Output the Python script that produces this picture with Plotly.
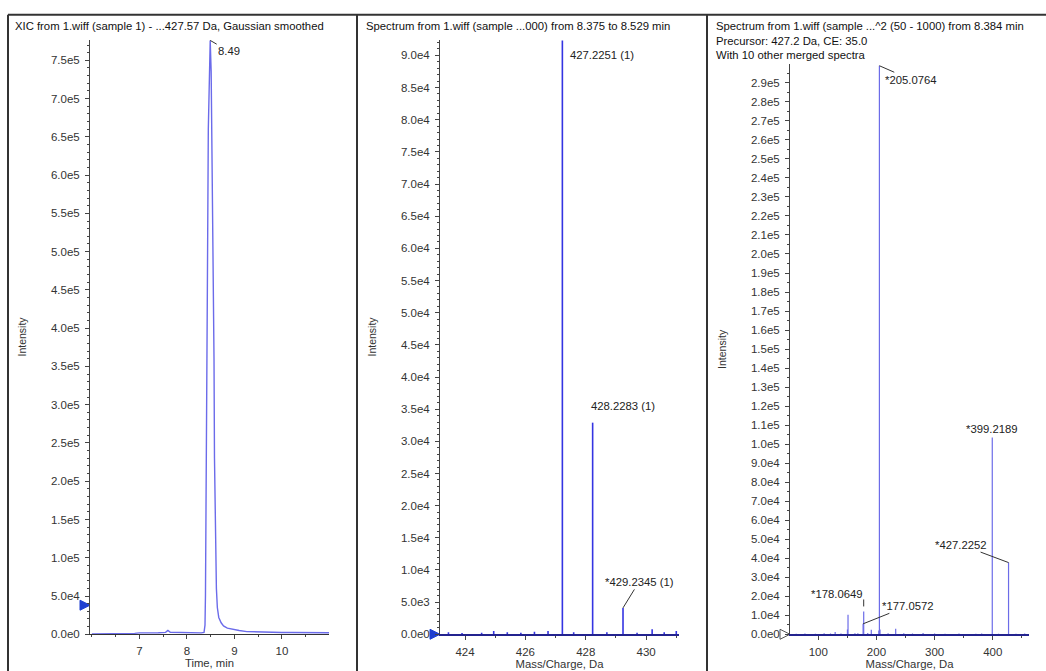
import math
import plotly.graph_objects as go

# ---------------- data ----------------
# Panel 1: XIC (time, min / intensity)
xic_time = [6.00, 6.20, 6.40, 6.60, 6.70, 6.75, 6.90, 7.00, 7.20, 7.40, 7.55, 7.60, 7.65,
            7.80, 8.00, 8.10, 8.20, 8.30, 8.36, 8.38, 8.39, 8.41, 8.43, 8.45, 8.47, 8.49,
            8.51, 8.53, 8.55, 8.57, 8.58, 8.60, 8.62, 8.64, 8.67, 8.72, 8.77, 8.85, 8.95,
            9.10, 9.26, 9.40, 9.60, 9.80, 10.00, 10.20, 10.40, 10.50, 10.60, 10.70, 10.80, 11.00]
xic_int = [300, 400, 300, 600, 1400, 800, 1200, 1800, 1500, 1900, 2500, 5000, 2600,
           2200, 2000, 2300, 2000, 1800, 2500, 12000, 50000, 200000, 450000, 660000, 730000, 776000,
           735000, 630000, 500000, 360000, 230000, 110000, 60000, 35000, 22000, 15000, 11000, 8000, 6500,
           5000, 3500, 3200, 2600, 2500, 2400, 2300, 2200, 2800, 2000, 2600, 2000, 2000]
xic_apex_time = 8.49
xic_apex_int = 776000

# Panel 2: TOF MS spectrum (m/z / intensity)
ms_mz = [423.45, 423.90, 424.55, 424.95, 425.40, 425.85, 426.30, 426.75, 427.2251, 427.60,
         428.2283, 428.70, 429.2345, 429.70, 430.20, 430.60, 431.00]
ms_int = [300, 200, 250, 500, 300, 250, 400, 500, 92300, 300,
          32900, 300, 4100, 250, 800, 300, 500]

# Panel 3: product ion spectrum (m/z / intensity)
msms_mz = [62, 77, 95, 110, 121, 129.0, 139, 150.1, 151.1, 163.0, 168, 177.0572, 178.0649,
           185, 191.1, 204.1, 205.0764, 206.1, 220, 233.1, 247, 262, 280.2, 300, 318, 342,
           371, 381, 399.2189, 410, 427.2252, 440, 455]
msms_int = [300, 400, 300, 500, 400, 1200, 400, 2500, 10300, 600, 500, 5500, 12000,
            700, 2400, 2000, 299000, 2500, 600, 2900, 500, 400, 700, 400, 300, 400,
            300, 400, 103500, 300, 37700, 300, 400]

# labelled peaks
ms_labels = ["427.2251 (1)", "428.2283 (1)", "*429.2345 (1)"]
msms_labels = ["*205.0764", "*399.2189", "*427.2252", "*178.0649", "*177.0572"]

# thresholds (arrow markers on the intensity axes)
thresholds = [38000, 0, 0]

# axis ticks
xtick1 = [7, 8, 9, 10]
xtick2 = [424, 426, 428, 430]
xtick3 = [100, 200, 300, 400]
ytick1 = [i * 5e4 for i in range(16)]
ytick2 = [i * 5e3 for i in range(19)]
ytick3 = [i * 1e4 for i in range(30)]

titles = [
    "XIC from 1.wiff (sample 1) - ...427.57 Da, Gaussian smoothed",
    "Spectrum from 1.wiff (sample ...000) from 8.375 to 8.529 min",
    "Spectrum from 1.wiff (sample ...^2 (50 - 1000) from 8.384 min<br>"
    "Precursor: 427.2 Da, CE: 35.0<br>With 10 other merged spectra",
]


def sci(v):
    if v == 0:
        return "0.0e0"
    e = int(math.floor(math.log10(v) + 1e-9))
    return f"{v / 10 ** e:.1f}e{e}"


def sticks(xs, ys):
    sx, sy = [], []
    for a, b in zip(xs, ys):
        sx += [a, a, None]
        sy += [0, b, None]
    return sx, sy


W, H = 1046, 671


def px(x):
    return x / W


def py(y):
    return (H - y) / H


FONT = "Liberation Sans, Arial, sans-serif"
TXT = "#222222"
AX = "#444444"

fig = go.Figure()

# Panel 1
fig.add_trace(go.Scatter(x=xic_time, y=xic_int, mode="lines",
                         line=dict(color="#6b6bea", width=1.4), xaxis="x", yaxis="y",
                         showlegend=False))
# Panel 2
sx, sy = sticks(ms_mz, ms_int)
fig.add_trace(go.Scatter(x=sx, y=sy, mode="lines", line=dict(color="#3434e2", width=1.6),
                         xaxis="x2", yaxis="y2", showlegend=False))
# Panel 3
sx, sy = sticks(msms_mz, msms_int)
fig.add_trace(go.Scatter(x=sx, y=sy, mode="lines", line=dict(color="#6c6ce8", width=1.2),
                         xaxis="x3", yaxis="y3", showlegend=False))

ranges_x = [[5.96, 10.99], [423.17, 431.09], [51.3, 462.4]]
ranges_y = [[0, 7.77e5], [0, 9.245e4], [0, 2.997e5]]
dom_x = [[px(90), px(329)], [px(440), px(679)], [px(790), px(1029)]]
dom_y = [[py(640), py(40)], [py(640), py(40)], [py(640), py(65)]]
xmajor = [xtick1, xtick2, xtick3]
xminor = [0.5, 1, 50]
ymajor = [ytick1, ytick2, ytick3]
yminor = [1e4, 1e3, 5e3]
xtitles = ["Time, min", "Mass/Charge, Da", "Mass/Charge, Da"]
xlinecol = ["#333333", "#23238e", "#23238e"]
xlinew = [1, 2, 2]

# threshold arrows
for i, th in enumerate(thresholds):
    sfx = "" if i == 0 else str(i + 1)
    fig.add_trace(go.Scatter(
        x=[ranges_x[i][0]], y=[th], mode="markers", cliponaxis=False,
        marker=dict(symbol="arrow-right" if i < 2 else "arrow-right-open", size=10,
                    color="#1f3fd0" if i < 2 else "#555555",
                    line=dict(width=1, color="#1f3fd0" if i < 2 else "#555555")),
        xaxis="x" + sfx, yaxis="y" + sfx, showlegend=False, hoverinfo="skip"))

layout = dict(
    width=W, height=H, margin=dict(l=0, r=0, t=0, b=0),
    paper_bgcolor="white", plot_bgcolor="white",
    font=dict(family=FONT, size=11.3, color=TXT),
    showlegend=False,
)
for i in range(3):
    sfx = "" if i == 0 else str(i + 1)
    layout["xaxis" + sfx] = dict(
        domain=dom_x[i], range=ranges_x[i], anchor="y" + sfx,
        showgrid=False, zeroline=False, showline=True, linecolor=xlinecol[i],
        linewidth=xlinew[i], ticks="outside", ticklen=4, tickcolor=AX,
        tickmode="array", tickvals=xmajor[i], ticktext=[str(v) for v in xmajor[i]],
        tickfont=dict(size=11.5, color="#333333"), ticklabelstandoff=2,
        minor=dict(dtick=xminor[i], ticks="outside", ticklen=2, tickcolor=AX),
        title=dict(text=xtitles[i], standoff=0, font=dict(size=11.3, color="#333333")),
    )
    layout["yaxis" + sfx] = dict(
        domain=dom_y[i], range=ranges_y[i], anchor="x" + sfx,
        showgrid=False, zeroline=False, showline=True, linecolor=AX, linewidth=1,
        ticks="outside", ticklen=4, tickcolor=AX, ticklabelstandoff=3,
        tickmode="array", tickvals=ymajor[i], ticktext=[sci(v) for v in ymajor[i]],
        tickfont=dict(size=11.5, color="#333333"),
        minor=dict(dtick=yminor[i], ticks="outside", ticklen=2, tickcolor=AX),
        title=dict(text="Intensity", standoff=22, font=dict(size=10.5, color="#333333")),
    )
fig.update_layout(**layout)

# panel frames
frame = dict(type="line", xref="paper", yref="paper", line=dict(color="#333333", width=2))
fig.add_shape(x0=px(8), x1=1, y0=py(15), y1=py(15), **frame)
for xv in [8, 357, 707]:
    fig.add_shape(x0=px(xv), x1=px(xv), y0=py(15), y1=-0.05, **frame)

# panel titles
title_x = [13, 364, 714]
for t, xv in zip(titles, title_x):
    fig.add_annotation(text=t, xref="paper", yref="paper", x=px(xv), y=py(18),
                       xanchor="left", yanchor="top", showarrow=False, align="left",
                       font=dict(size=11.3, color="#111111"))

lab = dict(showarrow=True, arrowhead=0, arrowwidth=1, arrowcolor="#333333",
           standoff=0, font=dict(size=11.3, color=TXT))
# panel 1 apex label
fig.add_annotation(x=xic_apex_time, y=xic_apex_int, xref="x", yref="y",
                   text=f"{xic_apex_time:.2f}", ax=19, ay=11, **lab)
# panel 2 labels
fig.add_annotation(x=ms_mz[8], y=ms_int[8], xref="x2", yref="y2", text=ms_labels[0],
                   ax=40, ay=14, **lab)
fig.add_annotation(x=ms_mz[10], y=ms_int[10], xref="x2", yref="y2", text=ms_labels[1],
                   showarrow=False, xshift=30, yshift=17, font=dict(size=11.3, color=TXT))
fig.add_annotation(x=ms_mz[12], y=ms_int[12], xref="x2", yref="y2", text=ms_labels[2],
                   ax=16, ay=-26, **lab)
# panel 3 labels
i205 = msms_mz.index(205.0764)
i399 = msms_mz.index(399.2189)
i427 = msms_mz.index(427.2252)
i178 = msms_mz.index(178.0649)
i177 = msms_mz.index(177.0572)
fig.add_annotation(x=msms_mz[i205], y=msms_int[i205], xref="x3", yref="y3",
                   text=msms_labels[0], ax=32, ay=14, **lab)
fig.add_annotation(x=msms_mz[i399], y=msms_int[i399], xref="x3", yref="y3",
                   text=msms_labels[1], showarrow=False, yshift=8,
                   font=dict(size=11.3, color=TXT))
fig.add_annotation(x=msms_mz[i427], y=msms_int[i427], xref="x3", yref="y3",
                   text=msms_labels[2], ax=-48, ay=-18, **lab)
fig.add_annotation(x=msms_mz[i178], y=msms_int[i178], xref="x3", yref="y3",
                   text=msms_labels[3], showarrow=False, xshift=-27, yshift=17,
                   font=dict(size=11.3, color=TXT))
fig.add_shape(type="line", xref="x3", yref="y3", xsizemode="pixel", ysizemode="pixel",
              xanchor=msms_mz[i178], yanchor=msms_int[i178], x0=0, x1=0, y0=5, y1=12,
              line=dict(color="#333333", width=1))
fig.add_annotation(x=msms_mz[i177], y=msms_int[i177], xref="x3", yref="y3",
                   text=msms_labels[4], ax=45, ay=-18, **lab)

fig.write_html("out.html", config={"displayModeBar": False},
               post_script="document.body.style.margin='0px';")
